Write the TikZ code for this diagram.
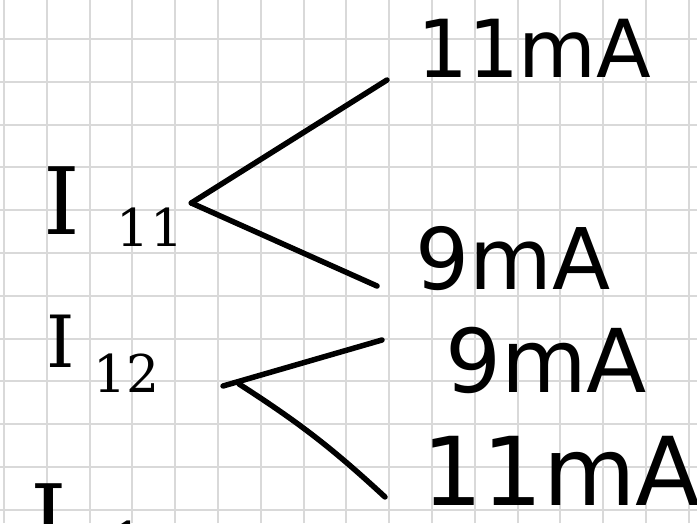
\documentclass[tikz,border=0pt]{standalone}
\usepackage{fontspec}
\newfontfamily\handsans{DejaVu Sans}
\newfontfamily\handserif{DejaVu Serif}
\usetikzlibrary{positioning}

\begin{document}
\begin{tikzpicture}[
  x=1pt,y=1pt,
  gridline/.style={draw=black!15,line width=2pt},
  wire/.style={line width=5.5pt,line cap=round,line join=round},
  cur/.style={inner sep=0pt,anchor=base west,font=\handserif\fontsize{#1}{#1}\selectfont},
  lbl/.style={inner sep=0pt,anchor=base west,font=\handsans\fontsize{#1}{#1}\selectfont}
]
  \useasboundingbox (0,0) rectangle (697,523);
  \clip (0,0) rectangle (697,523);
  \fill[white] (0,0) rectangle (697,523);
  \foreach \k in {0,...,16} \draw[gridline] (4+42.8*\k,0) -- (4+42.8*\k,523);
  \foreach \k in {0,...,11} \draw[gridline] (0,484-42.8*\k) -- (697,484-42.8*\k);

  \node[cur=93] (i11) at (43,288) {I\hspace{37pt}\raisebox{-12pt}{\fontsize{52}{52}\selectfont 11}};
  \node[cur=72] (i12) at (46,155) {I\hspace{19pt}\raisebox{-25pt}{\fontsize{52}{52}\selectfont 12}};
  \node[cur=93] (i13) at (30,-28) {I\hspace{45pt}\raisebox{-8pt}{\fontsize{52}{52}\selectfont 1}};
  \node[lbl=80] (a1) at (417,445) {11mA};
  \node[lbl=85] (a2) at (415,233) {9mA};
  \node[lbl=88] (b1) at (445,131) {9mA};
  \node[lbl=95] (b2) at (422,18) {11mA};

  \draw[wire] ([shift={(8pt,32pt)}]i11.base east) -- ([shift={(-30pt,-2pt)}]a1.base west);
  \draw[wire] ([shift={(8pt,32pt)}]i11.base east) -- ([shift={(-38pt,4pt)}]a2.base west);
  \draw[wire] ([shift={(63pt,-18pt)}]i12.base east) -- ([shift={(-63pt,52pt)}]b1.base west);
  \draw[wire] ([shift={(79pt,-16pt)}]i12.base east) to[bend left=5] ([shift={(-37pt,8pt)}]b2.base west);
\end{tikzpicture}
\end{document}
